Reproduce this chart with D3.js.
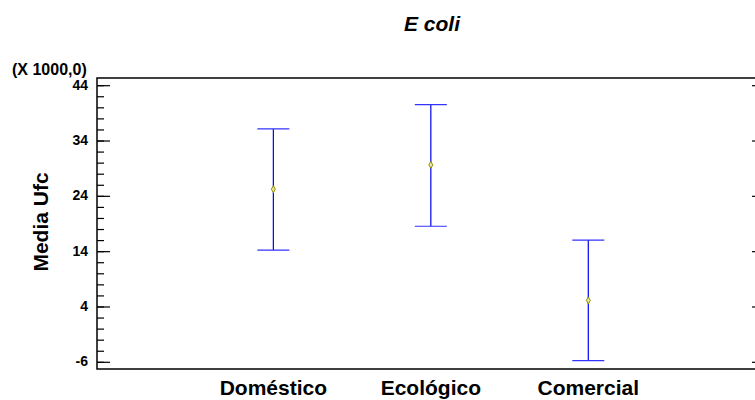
<!DOCTYPE html>
<html>
<head>
<meta charset="utf-8">
<script src="https://cdn.jsdelivr.net/npm/d3@7"></script>
<style>
    body { margin: 0; background: #fff; }
    text { font-family: Arial, "Liberation Sans", sans-serif; font-weight: bold; }
</style>
</head>
<body>
<div id="chart"></div>
<script>
const categories = ['Doméstico', 'Ecológico', 'Comercial'];
const means = [25.2, 29.6, 5.1];
const lower = [14.2, 18.5, -5.8];
const upper = [36.1, 40.5, 16.0];
const yTicks = [-6, 4, 14, 24, 34, 44];

const wSvg = 755, hSvg = 400;
const padLeft = 97, padTop = 78, padRight = 756, padBottom = 369;

const svg = d3.select('#chart')
    .append('svg')
    .attr('width', wSvg)
    .attr('height', hSvg);

const xScale = d3.scaleLinear()
    .domain([-0.12, 4.065])
    .range([padLeft, padRight]);

const yScale = d3.scaleLinear()
    .domain([-7.3, 45.3])
    .range([padBottom, padTop]);

const minorTicks = d3.range(-6, 45, 2);

// frame
svg.append('rect')
    .attr('x', padLeft)
    .attr('y', padTop)
    .attr('width', padRight - padLeft)
    .attr('height', padBottom - padTop)
    .attr('fill', 'none')
    .attr('stroke', '#000')
    .attr('stroke-width', 1.5);

// left axis
const yAxis = svg.append('g')
    .attr('transform', `translate(${padLeft}, 0)`)
    .call(d3.axisRight(yScale)
        .tickValues(minorTicks)
        .tickSize(7)
        .tickFormat(''));
yAxis.select('.domain').remove();
yAxis.selectAll('line').attr('stroke', '#000').attr('stroke-width', 1.2);

const yAxisMajor = svg.append('g')
    .attr('transform', `translate(${padLeft}, 0)`)
    .call(d3.axisRight(yScale)
        .tickValues(yTicks)
        .tickSize(13)
        .tickFormat(''));
yAxisMajor.select('.domain').remove();
yAxisMajor.selectAll('line').attr('stroke', '#000').attr('stroke-width', 1.2);

svg.append('g').selectAll('text')
    .data(yTicks)
    .enter()
    .append('text')
    .attr('x', padLeft - 9)
    .attr('y', d => yScale(d))
    .attr('dy', '0.33em')
    .attr('text-anchor', 'end')
    .attr('font-size', 14)
    .text(d => d);

// right axis (inward ticks)
const yRight = svg.append('g')
    .attr('transform', `translate(${padRight}, 0)`)
    .call(d3.axisLeft(yScale)
        .tickValues(yTicks)
        .tickSize(4)
        .tickFormat(''));
yRight.select('.domain').remove();
yRight.selectAll('line').attr('stroke', '#000').attr('stroke-width', 1.2);

// error bars
const gBars = svg.append('g');
categories.forEach((cat, i) => {
    const x = xScale(i + 1);
    gBars.append('line')
        .attr('x1', x).attr('x2', x)
        .attr('y1', yScale(upper[i])).attr('y2', yScale(lower[i]))
        .attr('stroke', '#0000ee').attr('stroke-width', 1.2);
    [upper[i], lower[i]].forEach(v => {
        gBars.append('line')
            .attr('x1', x - 16).attr('x2', x + 16)
            .attr('y1', yScale(v)).attr('y2', yScale(v))
            .attr('stroke', '#3333ff').attr('stroke-width', 1.2);
    });
    gBars.append('path')
        .attr('d', d3.symbol(d3.symbolDiamond, 14)())
        .attr('transform', `translate(${x}, ${yScale(means[i])})`)
        .attr('fill', '#e8e8a0')
        .attr('stroke', '#8f8f00')
        .attr('stroke-width', 1);
});

// x labels
svg.append('g').selectAll('text')
    .data(categories)
    .enter()
    .append('text')
    .attr('x', (d, i) => xScale(i + 1))
    .attr('y', 395)
    .attr('text-anchor', 'middle')
    .attr('font-size', 21)
    .text(d => d);

// title
svg.append('text')
    .attr('x', 432)
    .attr('y', 31)
    .attr('text-anchor', 'middle')
    .attr('font-size', 21)
    .attr('font-style', 'italic')
    .text('E coli');

// multiplier
svg.append('text')
    .attr('x', 12)
    .attr('y', 75)
    .attr('font-size', 16)
    .text('(X 1000,0)');

// y label
svg.append('text')
    .attr('transform', `translate(48, 222) rotate(-90)`)
    .attr('text-anchor', 'middle')
    .attr('font-size', 21)
    .text('Media Ufc');
</script>
</body>
</html>
